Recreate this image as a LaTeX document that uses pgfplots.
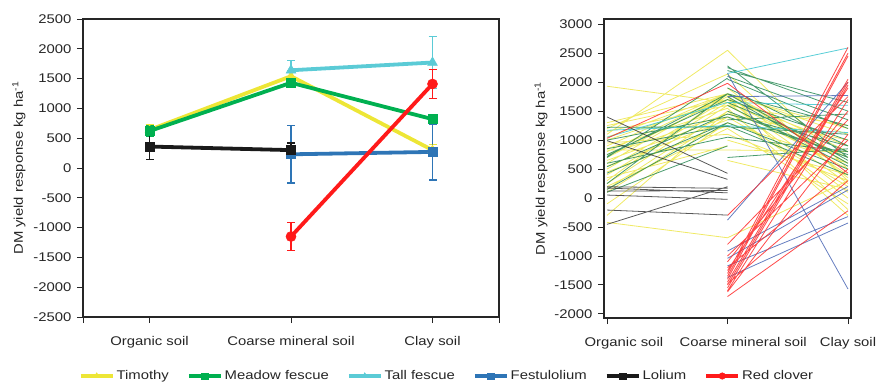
\documentclass[border=0pt]{standalone}
\usepackage{pgfplots}
\pgfplotsset{compat=1.18}
\usepackage{fontspec}
\setmainfont{Liberation Sans}[FakeStretch=1.18]
\newcommand\fs{\fontsize{12.6pt}{15pt}\selectfont}
\definecolor{cTim}{HTML}{EDE636}
\definecolor{cMea}{HTML}{00B050}
\definecolor{cTal}{HTML}{5BCBD6}
\definecolor{cFes}{HTML}{2E75B6}
\definecolor{cLol}{HTML}{1A1A1A}
\definecolor{cRed}{HTML}{FF1A1A}
\definecolor{rTim}{HTML}{EDE64A}
\definecolor{rMea}{HTML}{2A8A55}
\definecolor{rTal}{HTML}{3CC6D0}
\definecolor{rFes}{HTML}{4B67B5}
\definecolor{rLol}{HTML}{3A3A3A}
\definecolor{rRed}{HTML}{FF2A2A}
\definecolor{txt}{HTML}{262626}
\pgfplotsset{
  myaxis/.style={scale only axis, axis line style={line width=1.1pt, txt},
    tick style={line width=1pt, txt}, tick align=outside, major tick length=6pt,
    xtick pos=bottom, ytick pos=left,
    tick label style={font=\fs, text=txt}, label style={font=\fs, text=txt},
    xticklabel style={yshift=-10pt}, yticklabel style={xshift=-2pt}},
  mainline/.style={color=#1, line width=3.8pt, mark options={solid, fill=#1, line width=0.6pt},
    error bars/y dir=both, error bars/y explicit,
    error bars/error bar style={line width=1.2pt},
    error bars/error mark options={rotate=90, line width=1.2pt, mark size=4pt}},
  thinline/.style={color=#1, line width=0.8pt, opacity=0.85, forget plot},
  legend image code/.code={\draw[mark repeat=2, mark phase=2, #1, mark size=3.2pt] plot coordinates {(0pt,0pt) (16pt,0pt) (32pt,0pt)};},
}
\begin{document}
\begin{tikzpicture}
\begin{axis}[myaxis, at={(83pt,67pt)}, anchor=south west, width=416pt, height=298pt,
  xmin=-0.47, xmax=2.47, ymin=-2500, ymax=2500,
  xtick={-0.47,0,1,2,2.47}, xticklabels={,Organic soil,Coarse mineral soil,Clay soil,},
  ytick={-2500,-2000,...,2500},
  yticklabels={-2500,-2000,-1500,-1000,-500,0,500,1000,1500,2000,2500},
  ylabel={DM yield response kg ha\textsuperscript{-1}},
  ylabel style={at={(axis description cs:-0.154,0.5)}, anchor=center},
  legend columns=6,
  legend style={at={(axis description cs:0.875,-0.198)}, anchor=center, draw=none, fill=none,
    font=\fs, text=txt, /tikz/every even column/.append style={column sep=16pt}},
]
\addplot[mainline=cTim, mark=triangle*, mark size=5pt] coordinates {(0,640) +- (0,80) (1,1540) +- (0,90) (2,300) +- (0,100)};
\addlegendentry{Timothy}
\addplot[mainline=cMea, mark=square*, mark size=4.5pt] coordinates {(0,620) +- (0,90) (1,1430) +- (0,70) (2,820) +- (0,80)};
\addlegendentry{Meadow fescue}
\addplot[mainline=cTal, mark=triangle*, mark size=5.5pt] coordinates {(1,1640) +- (0,170) (2,1770) +- (0,430)};
\addlegendentry{Tall fescue}
\addplot[mainline=cFes, mark=square*, mark size=4.5pt] coordinates {(1,230) +- (0,480) (2,270) +- (0,470)};
\addlegendentry{Festulolium}
\addplot[mainline=cLol, mark=square*, mark size=4.5pt] coordinates {(0,360) +- (0,220) (1,300) +- (0,120)};
\addlegendentry{Lolium}
\addplot[mainline=cRed, mark=*, mark size=5pt] coordinates {(1,-1150) +- (0,240) (2,1410) +- (0,240)};
\addlegendentry{Red clover}
\end{axis}

\begin{axis}[myaxis, at={(604pt,66pt)}, anchor=south west, width=247pt, height=299pt,
  xmin=-0.025, xmax=2.025, ymin=-2070, ymax=3090,
  xtick={0,1,2}, xticklabels={,,Clay soil},
  extra x ticks={0.14,1.13}, extra x tick labels={Organic soil,Coarse mineral soil},
  extra x tick style={major tick length=0pt, xticklabel style={yshift=-6pt}},
  ytick={-2000,-1500,...,3000},
  yticklabels={-2000,-1500,-1000,-500,0,500,1000,1500,2000,2500,3000},
  ylabel={DM yield response kg ha\textsuperscript{-1}},
  ylabel style={at={(axis description cs:-0.255,0.5)}, anchor=center},
  unbounded coords=jump,
]
% Timothy
\addplot[thinline=rTim] coordinates {
(0,1100)(1,2550)(0,nan)(0,1200)(1,2140)(0,nan)(0,1930)(1,1650)(0,nan)(0,1300)(1,1800)(0,nan)
(0,1150)(1,1600)(0,nan)(0,1050)(1,1800)(0,nan)(0,1000)(1,1700)(0,nan)(0,900)(1,1800)(0,nan)
(0,950)(1,1100)(0,nan)(0,850)(1,1550)(0,nan)(0,800)(1,1780)(0,nan)(0,750)(1,1450)(0,nan)
(0,700)(1,1750)(0,nan)(0,650)(1,1400)(0,nan)(0,600)(1,1800)(0,nan)(0,550)(1,1350)(0,nan)
(0,500)(1,1700)(0,nan)(0,450)(1,1250)(0,nan)(0,400)(1,1650)(0,nan)(0,350)(1,900)(0,nan)
(0,300)(1,1800)(0,nan)(0,250)(1,1600)(0,nan)(0,200)(1,1200)(0,nan)(0,150)(1,1500)(0,nan)
(0,100)(1,1400)(0,nan)(0,-100)(1,1300)(0,nan)(0,-300)(1,1500)(0,nan)(0,-420)(1,-685)(0,nan)
(0,830)(1,830)(0,nan)(0,1250)(1,1700)(0,nan)
(1,2550)(2,500)(0,nan)(1,2140)(2,300)(0,nan)(1,1900)(2,350)(0,nan)(1,1800)(2,800)(0,nan)
(1,1800)(2,600)(0,nan)(1,1800)(2,1100)(0,nan)(1,1780)(2,1200)(0,nan)(1,1750)(2,400)(0,nan)
(1,1750)(2,-200)(0,nan)(1,1700)(2,250)(0,nan)(1,1700)(2,900)(0,nan)(1,1650)(2,700)(0,nan)
(1,1650)(2,100)(0,nan)(1,1600)(2,500)(0,nan)(1,1600)(2,1250)(0,nan)(1,1550)(2,-300)(0,nan)
(1,1500)(2,0)(0,nan)(1,1450)(2,1000)(0,nan)(1,1400)(2,200)(0,nan)(1,1300)(2,600)(0,nan)
(1,1200)(2,-100)(0,nan)(1,1100)(2,300)(0,nan)(1,1000)(2,400)(0,nan)(1,830)(2,800)(0,nan)
(1,650)(2,150)(0,nan)(1,-685)(2,300)
};
% Meadow fescue
\addplot[thinline=rMea] coordinates {
(0,1220)(1,1230)(0,nan)(0,700)(1,2070)(0,nan)(0,720)(1,1800)(0,nan)(0,540)(1,1450)(0,nan)
(0,430)(1,1300)(0,nan)(0,1000)(1,1400)(0,nan)(0,600)(1,1050)(0,nan)(0,100)(1,900)(0,nan)
(0,750)(1,1700)(0,nan)(0,850)(1,1250)(0,nan)(0,250)(1,1800)(0,nan)(0,150)(1,1300)(0,nan)
(1,2280)(2,700)(0,nan)(1,2250)(2,1500)(0,nan)(1,2200)(2,1650)(0,nan)(1,2100)(2,1350)(0,nan)
(1,2050)(2,1200)(0,nan)(1,1900)(2,900)(0,nan)(1,1800)(2,650)(0,nan)(1,1750)(2,600)(0,nan)
(1,1700)(2,1000)(0,nan)(1,1650)(2,800)(0,nan)(1,1600)(2,550)(0,nan)(1,1500)(2,700)(0,nan)
(1,1450)(2,900)(0,nan)(1,1400)(2,750)(0,nan)(1,1300)(2,500)(0,nan)(1,1250)(2,400)(0,nan)
(1,1230)(2,1100)(0,nan)(1,1050)(2,800)(0,nan)(1,700)(2,850)(0,nan)(1,1350)(2,1450)(0,nan)
(1,1800)(2,1250)
};
% Tall fescue
\addplot[thinline=rTal] coordinates {
(0,1050)(1,1650)(0,nan)(0,1170)(1,1250)(0,nan)
(1,2150)(2,2590)(0,nan)(1,1650)(2,1600)(0,nan)(1,1250)(2,1130)
};
% Festulolium
\addplot[thinline=rFes] coordinates {
(1,1750)(2,1770)(0,nan)(1,2150)(2,-1570)(0,nan)(1,-380)(2,2000)(0,nan)(1,-915)(2,200)(0,nan)
(1,-1040)(2,140)(0,nan)(1,-1170)(2,-320)(0,nan)(1,-1370)(2,-430)
};
% Lolium
\addplot[thinline=rLol] coordinates {
(0,1400)(1,426)(0,nan)(0,990)(1,323)(0,nan)(0,195)(1,168)(0,nan)(0,173)(1,90)(0,nan)
(0,52)(1,-22)(0,nan)(0,120)(1,130)(0,nan)(0,-207)(1,-294)(0,nan)(0,-454)(1,195)
};
% Red clover
\addplot[thinline=rRed] coordinates {
(0,1030)(1,1980)(0,nan)
(1,1980)(2,430)(0,nan)(1,-300)(2,1750)(0,nan)(1,-800)(2,1350)(0,nan)(1,-1000)(2,1000)(0,nan)
(1,-1100)(2,1500)(0,nan)(1,-1200)(2,500)(0,nan)(1,-1250)(2,1900)(0,nan)(1,-1300)(2,2600)(0,nan)
(1,-1350)(2,2500)(0,nan)(1,-1400)(2,2450)(0,nan)(1,-1450)(2,2050)(0,nan)(1,-1480)(2,300)(0,nan)
(1,-1500)(2,2000)(0,nan)(1,-1550)(2,1950)(0,nan)(1,-1600)(2,1700)(0,nan)(1,-1620)(2,1100)(0,nan)
(1,-1700)(2,-220)
};
\end{axis}
\pgfresetboundingbox
\path (0,0) rectangle (877pt,384pt);
\end{tikzpicture}
\end{document}
